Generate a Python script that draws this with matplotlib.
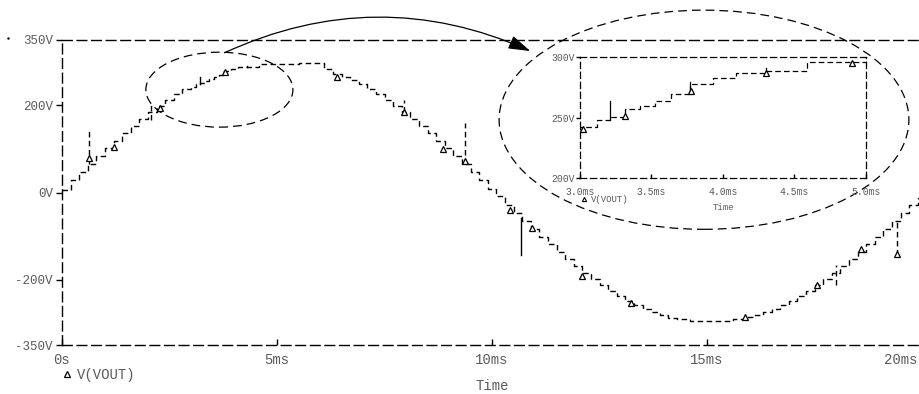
import matplotlib
matplotlib.use("Agg")
import matplotlib.pyplot as plt
import matplotlib.transforms as mtransforms
import numpy as np
from matplotlib.patches import Ellipse, FancyArrowPatch

plt.rcParams['font.family'] = ['Liberation Mono', 'DejaVu Sans Mono']

# sample-and-hold output: step start times (ms) and held voltages (V)
step_t = [0.0, 0.2, 0.4, 0.6, 0.8, 1.0, 1.2, 1.4, 1.6, 1.8, 2.0, 2.2, 2.4, 2.6, 2.8,
          3.0, 3.117, 3.21, 3.315, 3.42, 3.525, 3.64, 3.77, 3.93, 4.09, 4.30, 4.59,
          5.5, 6.1, 6.3, 6.5, 6.7, 6.9, 7.1, 7.3, 7.5, 7.7, 7.9, 8.1, 8.3, 8.5, 8.7,
          8.9, 9.1, 9.3, 9.5, 9.7, 9.9, 10.1, 10.3, 10.5, 10.7, 10.9, 11.1, 11.3,
          11.5, 11.7, 11.9, 12.1, 12.3, 12.5, 12.7, 12.9, 13.1, 13.3, 13.5, 13.7,
          13.9, 14.1, 14.3, 14.6, 15.6, 15.9, 16.1, 16.3, 16.5, 16.7, 16.9, 17.1,
          17.3, 17.5, 17.7, 17.9, 18.1, 18.3, 18.5, 18.7, 18.9, 19.1, 19.3, 19.5,
          19.7, 19.9]
step_v = [5, 28, 47, 65, 84, 102, 119, 136, 153, 169, 184, 198, 212, 225, 237,
          242, 248, 251, 257, 260, 264, 270, 278, 283, 287, 289, 296,
          297, 284, 272, 266, 258, 248, 237, 225, 212, 198, 184, 169, 153, 136, 119,
          102, 84, 65, 47, 28, 9, -9, -28, -47, -65, -84, -102, -119,
          -136, -153, -169, -184, -198, -212, -225, -237, -248, -258, -267, -275,
          -282, -288, -291, -294, -290, -285, -281, -275, -267, -258, -248, -237,
          -225, -212, -198, -184, -169, -153, -136, -119, -102, -84, -65, -47,
          -28, -12]
t_end = 20.0

# switching glitches: time (ms), lower and upper voltage, line style
glitch_t = [0.63, 2.07, 3.21, 3.77, 4.30, 7.95, 9.37, 10.67, 18.0, 19.41]
glitch_lo = [65, 166, 248, 272, 287, 184, 65, -143, -212, -143]
glitch_hi = [148, 205, 264, 280, 291, 212, 159, -58, -166, -61]
glitch_ls = ['--', '--', '-', '-', '-', '--', '--', '-', '--', '--']

# trace markers (ms, V)
mark_t = [0.63, 1.2, 2.28, 3.78, 6.39, 7.96, 8.87, 9.37, 10.42, 10.93, 12.1,
          13.23, 15.88, 17.56, 18.59, 19.41]
mark_v = [79, 105, 193, 277, 266, 185, 99, 73, -40, -82, -191, -254, -286,
          -213, -130, -140]
zoom_mark_t = [3.023, 3.315, 3.78, 4.30, 4.906]
zoom_mark_v = [240.5, 251.5, 272, 287, 295.5]

main_xticks = [0, 5, 10, 15, 20]
main_xlabels = ['0s', '5ms', '10ms', '15ms', '20ms']
main_yticks = [350, 200, 0, -200, -350]
main_ylabels = ['350V', '200V', '0V', '-200V', '-350V']
zoom_xticks = [3.0, 3.5, 4.0, 4.5, 5.0]
zoom_xlabels = ['3.0ms', '3.5ms', '4.0ms', '4.5ms', '5.0ms']
zoom_yticks = [200, 250, 300]
zoom_ylabels = ['200V', '250V', '300V']

grey = '#5a5a5a'
W, H = 920, 394

t = np.append(step_t, t_end)
v = np.append(step_v, step_v[-1])


def style_axes(ax, lw, dash, xfs, yfs, xpad, ypad):
    for s in ax.spines.values():
        s.set_linewidth(lw)
        s.set_linestyle((0, dash))
        s.set_edgecolor('black')
    ax.tick_params(axis='x', direction='in', length=4, width=1, colors='black',
                   labelcolor=grey, labelsize=xfs, pad=xpad)
    ax.tick_params(axis='y', direction='out', length=4, width=1, colors='black',
                   labelcolor=grey, labelsize=yfs, pad=ypad)


def draw_trace(ax, dash, lw, ms, mt, mv):
    ax.plot(t, v, drawstyle='steps-post', color='black', lw=lw,
            linestyle=(0, dash))
    for gt, lo, hi, ls in zip(glitch_t, glitch_lo, glitch_hi, glitch_ls):
        ax.plot([gt, gt], [lo, hi], color='black', lw=lw,
                linestyle=(0, dash) if ls == '--' else '-')
    ax.plot(mt, mv, linestyle='none', marker='^', ms=ms, mfc='white',
            mec='black', mew=0.9)


fig = plt.figure(figsize=(W / 100, H / 100), dpi=100)

ax = fig.add_axes([62 / W, 49 / H, 860 / W, 305 / H])
draw_trace(ax, (4, 2.5), 1.0, 5, mark_t, mark_v)
ax.set_xlim(0, 20)
ax.set_ylim(-350, 350)
ax.set_xticks(main_xticks, main_xlabels)
ax.set_yticks(main_yticks, main_ylabels)
style_axes(ax, 1.0, (7, 3.5), 10, 9, 6, 2.5)

# the last time label sits at the right border, pull it back inside
last = ax.get_xticklabels()[-1]
last.set_transform(last.get_transform() +
                   mtransforms.ScaledTranslation(-21 / 100, 0, fig.dpi_scale_trans))

# small ellipse around the rising crest, big one round the zoomed view
ax.add_patch(Ellipse((3.66, 236), 3.42, 172, fill=False, ec='black', lw=0.9,
                     linestyle=(0, (7, 4)), clip_on=False))
ax.add_patch(Ellipse((14.93, 167), 9.53, 503, fill=False, ec='black', lw=0.9,
                     linestyle=(0, (7, 4)), clip_on=False))
ax.add_patch(FancyArrowPatch((3.72, 318), (10.95, 322),
                             connectionstyle='arc3,rad=-0.23',
                             arrowstyle='-|>,head_length=0.9,head_width=0.28',
                             mutation_scale=15, color='black', lw=0.9,
                             clip_on=False))

# zoomed view 3.0 .. 5.0 ms
axz = fig.add_axes([580 / W, 1 - 178.3 / H, 285.7 / W, 121 / H])
draw_trace(axz, (4.5, 2.5), 0.9, 4, zoom_mark_t, zoom_mark_v)
axz.set_xlim(3.0, 5.0)
axz.set_ylim(200, 300)
axz.set_xticks(zoom_xticks, zoom_xlabels)
axz.set_yticks(zoom_yticks, zoom_ylabels)
style_axes(axz, 0.9, (5, 3), 7, 7, 6, 1)
axz.tick_params(length=3)

# axis titles and trace legends
fig.text(492 / W, 1 - 386 / H, 'Time', ha='center', va='center', fontsize=10,
         color=grey)
fig.text(723 / W, 1 - 208 / H, 'Time', ha='center', va='center', fontsize=6.5,
         color=grey)
fig.text(77 / W, 1 - 375 / H, 'V(VOUT)', ha='left', va='center', fontsize=10,
         color=grey)
fig.text(591 / W, 1 - 199 / H, 'V(VOUT)', ha='left', va='center', fontsize=6.5,
         color=grey)
fig.add_artist(plt.Line2D([67 / W], [1 - 374 / H], marker='^', ms=4,
                          mfc='white', mec='black', mew=0.9,
                          transform=fig.transFigure))
fig.add_artist(plt.Line2D([584 / W], [1 - 198.5 / H], marker='^', ms=3,
                          mfc='white', mec='black', mew=0.8,
                          transform=fig.transFigure))
fig.add_artist(plt.Line2D([8 / W], [1 - 38 / H], marker='.', ms=1.5,
                          color='black', transform=fig.transFigure))

fig.savefig('out.png', dpi=100)
